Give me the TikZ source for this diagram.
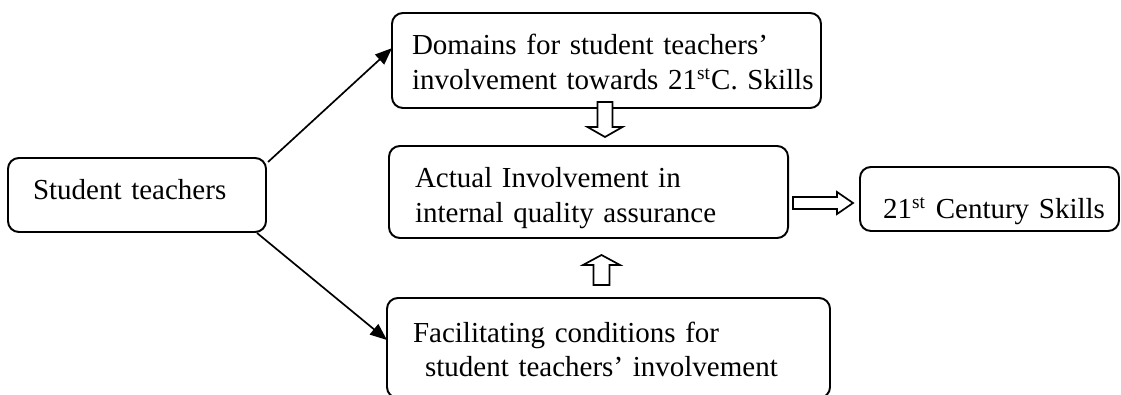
\documentclass[tikz,border=0pt]{standalone}
\usepackage{fontspec}
\setmainfont{Liberation Serif}
\usetikzlibrary{arrows.meta,calc}

\begin{document}
\begin{tikzpicture}[x=0.4138pt, y=-0.4138pt, font=\fontsize{12}{14.4}\selectfont,
  box/.style={draw, rounded corners=4.5pt, line width=0.8pt, anchor=north west,
    align=left, inner xsep=1.66pt, inner ysep=0pt, outer sep=0pt},
  hollow/.style={draw, fill=white, line width=0.7pt, line join=miter},
  link/.style={line width=0.7pt, -{Triangle[length=7pt,width=5.5pt]}}]

  % page frame (pixel units, y pointing down)
  \useasboundingbox (0,0) rectangle (1121,395);

  % ---- the five boxes ----
  \node[box, text width=103.45pt, minimum height=30.62pt, text height=8.28pt, text depth=4.14pt]
    (student) at (8,158) {\hspace*{8.69pt}Student teachers};

  \node[box, text width=174.2pt, minimum height=39.31pt, text height=8.28pt, text depth=12.83pt]
    (domains) at (392,13) {\hspace*{6.62pt}Domains for student teachers’\\
    \mbox{\hspace*{6.62pt}involvement towards 21\textsuperscript{st}C. Skills}};

  \node[box, text width=161.80pt, minimum height=38.07pt, text height=8.28pt, text depth=11.59pt]
    (actual) at (389,146) {\hspace*{9.10pt}Actual Involvement in\\
    \hspace*{9.10pt}internal quality assurance};

  \node[box, text width=180.00pt, minimum height=41.38pt, text height=8.28pt, text depth=13.24pt]
    (facil) at (387,298) {\hspace*{9.10pt}Facilitating conditions for\\
    \hspace*{14.1pt}student teachers’ involvement};

  \node[box, text width=103.86pt, minimum height=26.48pt, text height=20.69pt, text depth=4.14pt]
    (skills) at (860,167) {\hspace*{7.86pt}21\textsuperscript{st} Century Skills};

  % ---- thin arrows out of the student box ----
  \draw[link] ($(student.north east)+(2,4)$) -- ($(domains.north west)!0.37!(domains.south west)$);
  \draw[link] ($(student.south east)+(-9,1)$) -- ($(facil.north west)!0.42!(facil.south west)$);

  % ---- hollow block arrows ----
  % domains -> actual
  \draw[hollow] ($(domains.south)+(-9,-6)$) -- ++(15,0) -- ++(0,25) -- ++(10,0)
    -- ++(-17.5,10) -- ++(-17.5,-10) -- ++(10,0) -- cycle;
  % facil -> actual
  \draw[hollow] ($(facil.north)+(-15,-13)$) -- ++(16,0) -- ++(0,-20) -- ++(10.5,0)
    -- ++(-18.5,-10) -- ++(-18.5,10) -- ++(10.5,0) -- cycle;
  % actual -> skills
  \draw[hollow] ($(actual.east)+(5,5)$) -- ++(44,0) -- ++(0,-5) -- ++(16,11)
    -- ++(-16,11) -- ++(0,-5) -- ++(-44,0) -- cycle;

\end{tikzpicture}
\end{document}
